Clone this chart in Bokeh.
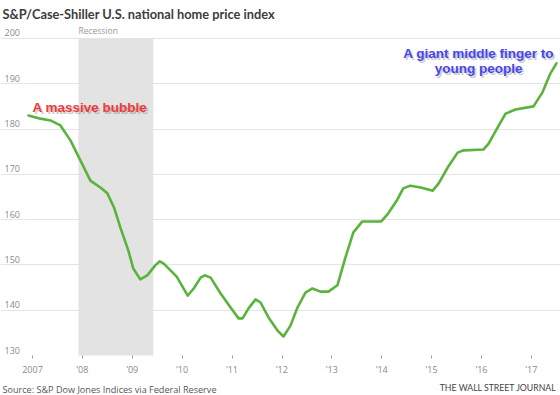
from bokeh.plotting import figure
from bokeh.models import FixedTicker, Label, Range1d, BoxAnnotation
from bokeh.embed import file_html
from bokeh.resources import INLINE
from bokeh.core.properties import value

# ---- data (decimal years, index values) ----
dates = [2006.92, 2007.16, 2007.36, 2007.56, 2007.76, 2007.96, 2008.16, 2008.36, 2008.50, 2008.64,
         2008.76, 2008.92, 2009.02, 2009.16, 2009.30, 2009.46, 2009.55, 2009.63, 2009.81, 2009.89,
         2010.11, 2010.23, 2010.37, 2010.45, 2010.57, 2010.77, 2010.97, 2011.13, 2011.21, 2011.33,
         2011.47, 2011.57, 2011.73, 2011.91, 2012.03, 2012.17, 2012.31, 2012.47, 2012.61, 2012.77,
         2012.93, 2013.11, 2013.27, 2013.43, 2013.61, 2013.77, 2013.99, 2014.13, 2014.31, 2014.43,
         2014.57, 2014.78, 2015.02, 2015.14, 2015.32, 2015.52, 2015.64, 2016.04, 2016.14, 2016.32,
         2016.48, 2016.68, 2017.04, 2017.22, 2017.38, 2017.50]
index_values = [183.0, 182.3, 181.9, 180.8, 177.5, 173.1, 168.6, 167.1, 165.8, 162.5,
                158.3, 153.2, 149.2, 146.8, 147.7, 149.9, 150.8, 150.3, 148.3, 147.4,
                143.2, 144.8, 147.2, 147.7, 147.2, 143.7, 140.6, 138.2, 138.2, 140.4,
                142.4, 141.7, 138.4, 135.5, 134.2, 136.6, 140.6, 143.9, 144.8, 144.1,
                144.1, 145.5, 151.6, 157.2, 159.6, 159.6, 159.6, 161.4, 164.4, 166.9,
                167.5, 167.1, 166.4, 168.0, 171.5, 174.8, 175.3, 175.5, 176.8, 180.3,
                183.4, 184.3, 185.0, 188.1, 192.3, 194.5]

recession = [2007.92, 2009.42]
x_ticks = [2007, 2008, 2009, 2010, 2011, 2012, 2013, 2014, 2015, 2016, 2017]
x_tick_labels = ["2007", "’08", "’09", "’10", "’11", "’12", "’13", "’14", "’15", "’16", "’17"]
y_ticks = [130, 140, 150, 160, 170, 180, 190, 200]

title_text = "S&P/Case-Shiller U.S. national home price index"
source_text = "Source: S&P Dow Jones Indices via Federal Reserve"
brand_text = "THE WALL STREET JOURNAL"
note_bubble = "A massive bubble"
note_finger = ["A giant middle finger to", "young people"]

FONT = "Open Sans"

W, H = 560, 395
PX_YEAR = 49.9
PX_UNIT = 4.529
x_start = 2007 - 32 / PX_YEAR
x_end = x_start + W / PX_YEAR
y_start = 130 - (H - 355) / PX_UNIT
y_end = 130 + 355 / PX_UNIT

p = figure(width=W, height=H, output_backend="svg", toolbar_location=None,
           x_range=Range1d(x_start, x_end), y_range=Range1d(y_start, y_end),
           y_axis_location=None, title=None,
           min_border_left=0, min_border_right=0, min_border_top=0, min_border_bottom=0)
p.outline_line_color = None
p.background_fill_color = "white"
p.border_fill_color = "white"

# grid (the bottom 130 line is not drawn in the original)
p.xgrid.visible = False
p.ygrid.ticker = FixedTicker(ticks=y_ticks[1:])
p.ygrid.grid_line_color = "#e4e4e4"
p.ygrid.grid_line_width = 1

# x axis, pinned to the 130 line inside the frame
ax = p.xaxis[0]
ax.fixed_location = y_ticks[0]
ax.ticker = FixedTicker(ticks=x_ticks)
ax.major_label_overrides = {t: l for t, l in zip(x_ticks, x_tick_labels)}
ax.axis_line_color = None
ax.major_tick_line_color = "#9a9a9a"
ax.major_tick_out = 3
ax.major_tick_in = 0
ax.minor_tick_line_color = None
ax.major_label_standoff = 4
ax.major_label_text_font = FONT
ax.major_label_text_font_size = "9px"
ax.major_label_text_color = "#8a8a8a"

# recession band
p.add_layout(BoxAnnotation(left=recession[0], right=recession[1], bottom=130, top=200,
                           fill_color="#e3e3e3", fill_alpha=1, line_color=None, level="underlay"))
p.text(x=[recession[0]], y=[200], text=["Recession"], text_font=value(FONT),
       text_font_size="8.5px", text_color="#9a9a9a", text_baseline="bottom",
       text_align="left", y_offset=-2)

# y tick labels
p.text(x=[x_start] * len(y_ticks), y=y_ticks, text=[str(v) for v in y_ticks],
       text_font=value(FONT), text_font_size="9px", text_color="#8a8a8a",
       text_baseline="bottom", text_align="left", x_offset=4, y_offset=-2)

# the line
p.line(dates, index_values, line_color="#5ab33c", line_width=2.6, line_join="round", line_cap="round")

# annotations with soft shadow
def shadowed(x, y, text, color, align):
    for dx, dy, a in [(2, -2.5, 0.18), (1.5, -2, 0.22)]:
        p.add_layout(Label(x=x, y=y, text=text, text_font="Liberation Sans", text_font_style="bold",
                           text_font_size="13.5px", text_color="#666666", text_alpha=a,
                           text_align=align, text_baseline="middle", x_offset=dx, y_offset=dy))
    p.add_layout(Label(x=x, y=y, text=text, text_font="Liberation Sans", text_font_style="bold",
                       text_font_size="13.5px", text_color=color,
                       text_align=align, text_baseline="middle"))

shadowed(2007.0, 184.8, note_bubble, "#f03a3a", "left")
shadowed(2015.94, 196.7, note_finger[0], "#4545f2", "center")
shadowed(2015.94, 193.4, note_finger[1], "#4545f2", "center")

# title and footer (screen units, relative to frame bottom-left = canvas bottom-left)
p.add_layout(Label(x=2, y=H - 13, x_units="screen", y_units="screen", text=title_text,
                   text_font="Lato", text_font_style="bold", text_font_size="12.8px",
                   text_color="#3c3c3c", text_baseline="middle", text_align="left"))
p.add_layout(Label(x=2, y=H - 389, x_units="screen", y_units="screen", text=source_text,
                   text_font=FONT, text_font_size="9.1px",
                   text_color="#555555", text_baseline="middle", text_align="left"))
p.add_layout(Label(x=556, y=H - 387, x_units="screen", y_units="screen", text=brand_text,
                   text_font="Lato", text_font_size="8.7px",
                   text_color="#444444", text_baseline="middle", text_align="right"))

open("out.html", "w").write(file_html(p, INLINE))
